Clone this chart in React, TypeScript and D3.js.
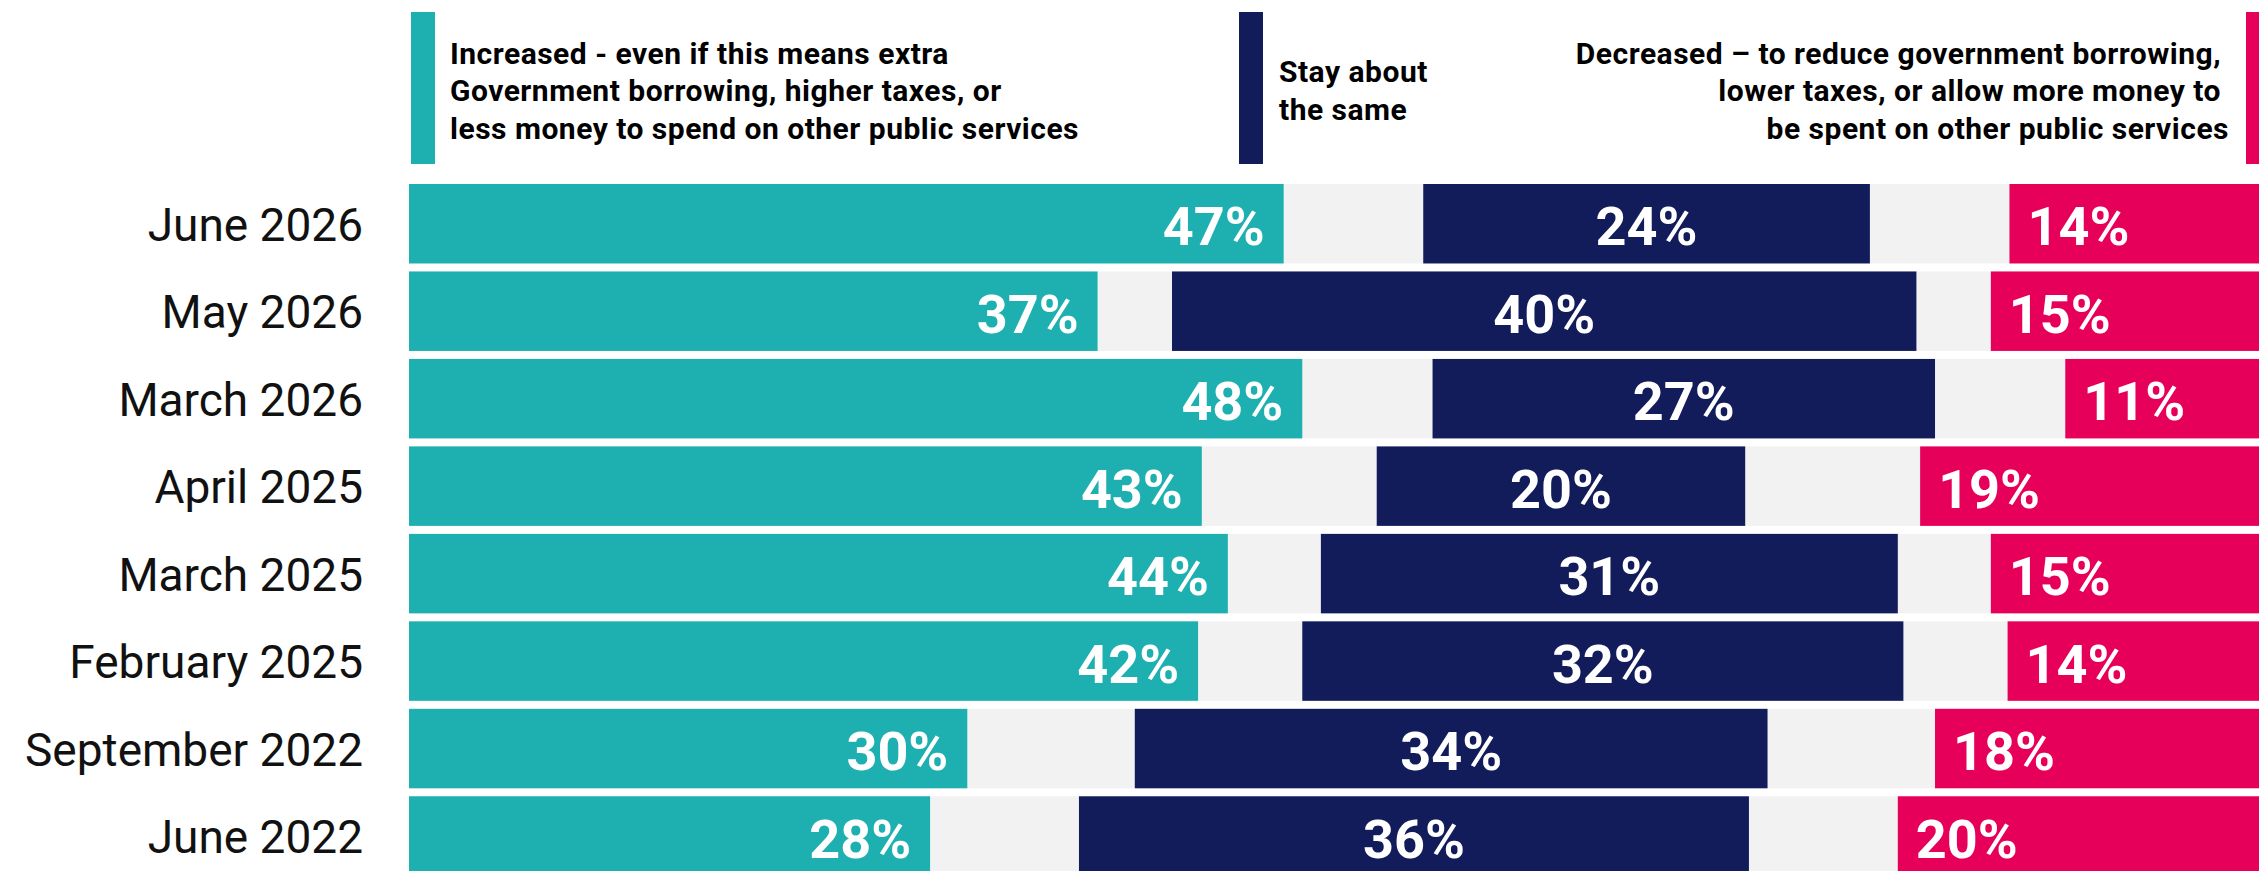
import React from "react";
import * as d3 from "d3";

const categories = [
  "June 2026",
  "May 2026",
  "March 2026",
  "April 2025",
  "March 2025",
  "February 2025",
  "September 2022",
  "June 2022",
];
const increased = [47, 37, 48, 42.6, 44, 42.4, 30, 28];
const sameValues = [24, 40, 27, 19.8, 31, 32.3, 34, 36];
const decreased = [14, 15, 11, 18.8, 15, 14.1, 18, 20];

const legendIncreased = [
  "Increased - even if this means extra",
  "Government borrowing, higher taxes, or",
  "less money to spend on other public services",
];
const legendSame = ["Stay about", "the same"];
const legendDecreased = [
  "Decreased \u2013 to reduce government borrowing, ",
  "lower taxes, or allow more money to ",
  "be spent on other public services",
];

const W = 2259;
const H = 871;
const TEAL = "#1EB0B0";
const NAVY = "#121C5B";
const PINK = "#E6005A";
const GRAY = "#F2F2F2";
const FONT = "Roboto, 'Noto Sans', sans-serif";

export default function App() {
  const x = d3.scaleLinear().domain([0, 100]).range([409, 2270]);
  const y = d3
    .scaleBand<string>()
    .domain(categories)
    .range([184, 875.76])
    .paddingInner(8 / 87.47)
    .paddingOuter(0);
  const bw = y.bandwidth();
  const fmt = (v: number) => `${Math.round(v)}%`;

  const legendBaselines = [63.5, 101, 138.5];
  const legendBaselines2 = [82, 119.5];
  const legendStyle = { fontSize: 30, fontWeight: 700, letterSpacing: "0.5px" } as const;

  return (
    <div>
      <style>{`body{margin:0;}`}</style>
      <svg width={W} height={H} style={{ display: "block" }} fontFamily={FONT}>
        <rect x={0} y={0} width={W} height={H} fill="#fff" />
        {/* Legend */}
        <g>
          <rect x={411} y={12} width={24} height={152} fill={TEAL} />
          {legendIncreased.map((t, i) => (
            <text key={i} x={450} y={legendBaselines[i]} fill="#000" style={legendStyle}>
              {t}
            </text>
          ))}
          <rect x={1239} y={12} width={24} height={152} fill={NAVY} />
          {legendSame.map((t, i) => (
            <text key={i} x={1279} y={legendBaselines2[i]} fill="#000" style={legendStyle}>
              {t}
            </text>
          ))}
          <rect x={2246} y={12} width={24} height={152} fill={PINK} />
          {legendDecreased.map((t, i) => (
            <text
              key={i}
              x={2229}
              y={legendBaselines[i]}
              fill="#000"
              textAnchor="end"
              style={{ ...legendStyle, whiteSpace: "pre" }}
            >
              {t}
            </text>
          ))}
        </g>
        {/* Bars */}
        {categories.map((c, i) => {
          const t = increased[i];
          const s = sameValues[i];
          const d = decreased[i];
          const gap = (100 - t - s - d) / 2;
          const y0 = y(c) as number;
          const cy = y0 + bw / 2;
          const sStart = t + gap;
          const dStart = t + gap + s + gap;
          return (
            <g key={c}>
              <rect x={x(0)} y={y0} width={x(100) - x(0)} height={bw} fill={GRAY} />
              <rect x={x(0)} y={y0} width={x(t) - x(0)} height={bw} fill={TEAL} />
              <rect x={x(sStart)} y={y0} width={x(sStart + s) - x(sStart)} height={bw} fill={NAVY} />
              <rect x={x(dStart)} y={y0} width={x(100) - x(dStart)} height={bw} fill={PINK} />
              <text x={363} y={cy + 17} textAnchor="end" fontSize={46} fontWeight={400} fill="#111">
                {c}
              </text>
              <text x={x(t) - 19} y={cy + 21.5} textAnchor="end" fontSize={54} fontWeight={700} fill="#fff">
                {fmt(t)}
              </text>
              <text x={x(sStart + s / 2)} y={cy + 21.5} textAnchor="middle" fontSize={54} fontWeight={700} fill="#fff">
                {fmt(s)}
              </text>
              <text x={x(dStart) + 18} y={cy + 21.5} textAnchor="start" fontSize={54} fontWeight={700} fill="#fff">
                {fmt(d)}
              </text>
            </g>
          );
        })}
      </svg>
    </div>
  );
}
